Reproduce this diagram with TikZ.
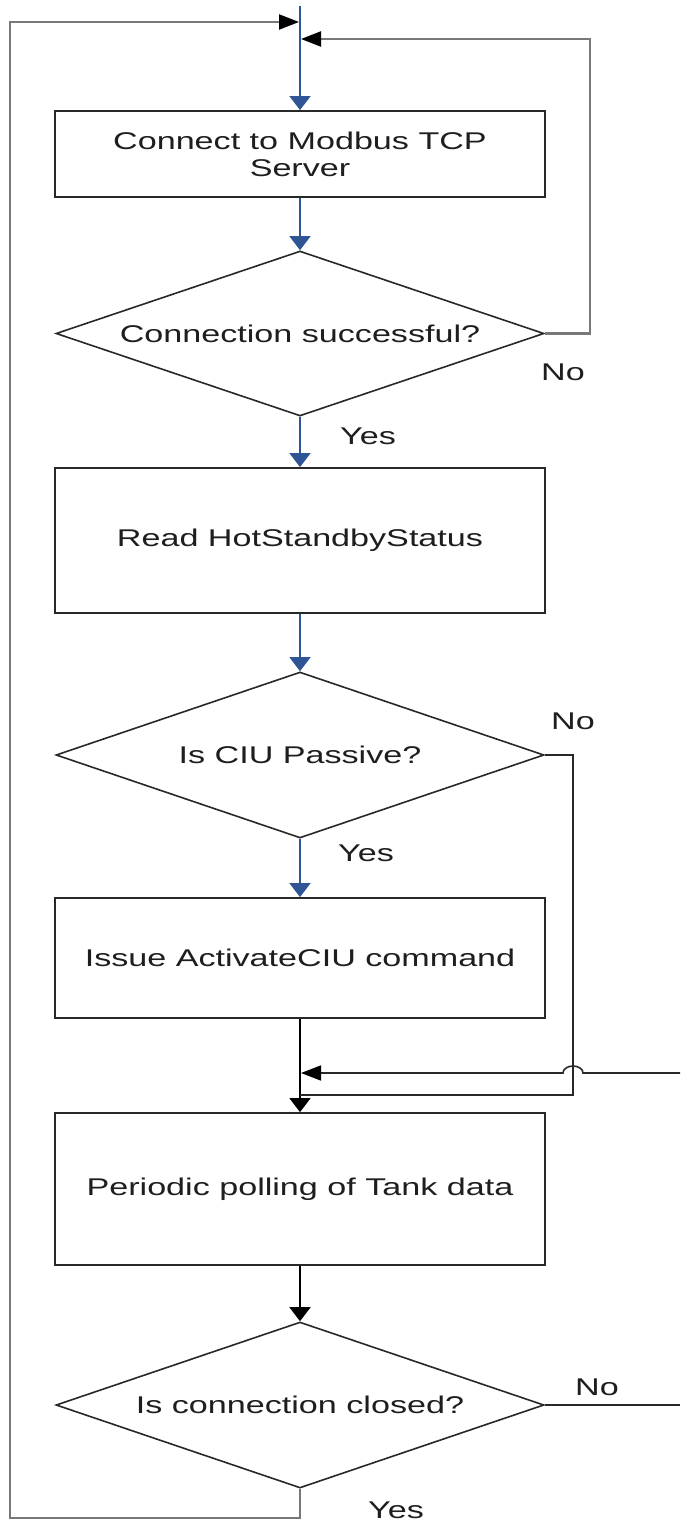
\documentclass[tikz,border=0pt]{standalone}
\usepackage{fontspec}
\setmainfont[FakeStretch=1.41]{Liberation Sans}
\usetikzlibrary{arrows.meta,shapes.geometric}
\definecolor{flowblue}{RGB}{47,85,151}
\definecolor{edgec}{RGB}{40,40,40}
\definecolor{loopgray}{RGB}{120,120,120}
\definecolor{txt}{RGB}{30,30,30}
\begin{document}
\begin{tikzpicture}[x=1pt,y=-1pt,
  every node/.style={font=\fontsize{24.2}{27}\selectfont, text=txt},
  proc/.style={draw=edgec, line width=1.8pt, rectangle, minimum width=490pt, inner sep=0pt, align=center},
  dec/.style={draw=edgec, line width=1.6pt, diamond, minimum width=488pt, minimum height=166pt, inner sep=0pt},
  vtip/.style={-{Triangle[length=14pt,width=21pt]}},
  htip/.style={-{Triangle[length=20pt,width=15pt,color=black]}},
  blueflow/.style={draw=flowblue, line width=1.4pt, vtip},
  blackflow/.style={draw=black, line width=1.6pt, vtip},
  darkline/.style={draw=edgec, line width=1.6pt},
  loopline/.style={draw=loopgray, line width=2.2pt},
  lbl/.style={inner sep=0pt}
]
\path[use as bounding box] (0,0) rectangle (680,1522);

% nodes
\node[proc, minimum height=86pt] (b1) at (300,154) {Connect to Modbus TCP\\Server};
\node[dec, minimum height=165pt] (d1) at (300,333.5) {\makebox[0pt]{Connection successful?}};
\node[proc, minimum height=145pt] (b2) at (300,540.5) {Read HotStandbyStatus};
\node[dec] (d2) at (300,755) {\makebox[0pt]{Is CIU Passive?}};
\node[proc, minimum height=120pt] (b3) at (300,958) {Issue ActivateCIU command};
\node[proc, minimum height=152pt] (b4) at (300,1189) {Periodic polling of Tank data};
\node[dec] (d3) at (300,1405) {\makebox[0pt]{Is connection closed?}};

% labels
\node[lbl] (no1) at (563,372) {No};
\node[lbl] (yes1) at (368,436) {Yes};
\node[lbl] (no2) at (573,721) {No};
\node[lbl] (yes2) at (366,853) {Yes};
\node[lbl] (no3) at (597,1387) {No};
\node[lbl] (yes3) at (396,1510) {Yes};

% coordinates
\coordinate (top) at (300,6);
\coordinate (r1) at (590,39);
\coordinate (j1) at (301,39);
\coordinate (lb) at (10,1518);
\coordinate (lt) at (10,22);
\coordinate (j2) at (299,22);
\coordinate (c2) at (573,1095);
\coordinate (m2) at (300,1095);
\coordinate (re) at (680,1073);
\coordinate (jump) at (583,1073);
\coordinate (j3) at (301,1073);
\coordinate (re2) at (680,1405);

% main flow
\draw[blueflow] (top) -- (b1.north);
\draw[blueflow] (b1.south) -- (d1.north);
\draw[blueflow] (d1.south) -- (b2.north);
\draw[blueflow] (b2.south) -- (d2.north);
\draw[blueflow] (d2.south) -- (b3.north);
\draw[blackflow] (b3.south) -- (b4.north);
\draw[blackflow] (b4.south) -- (d3.north);

% loops
\draw[loopline, htip] (d1.east) -| (r1) -- (j1);
\draw[loopline, htip] (d3.south) |- (lb) -- (lt) -- (j2);
\draw[darkline] (d2.east) -| (c2) -- (m2);
\draw[darkline, htip] (re) -- (jump) arc[start angle=0, end angle=180, x radius=10pt, y radius=7pt] -- (j3);
\draw[darkline] (d3.east) -- (re2);
\end{tikzpicture}
\end{document}
